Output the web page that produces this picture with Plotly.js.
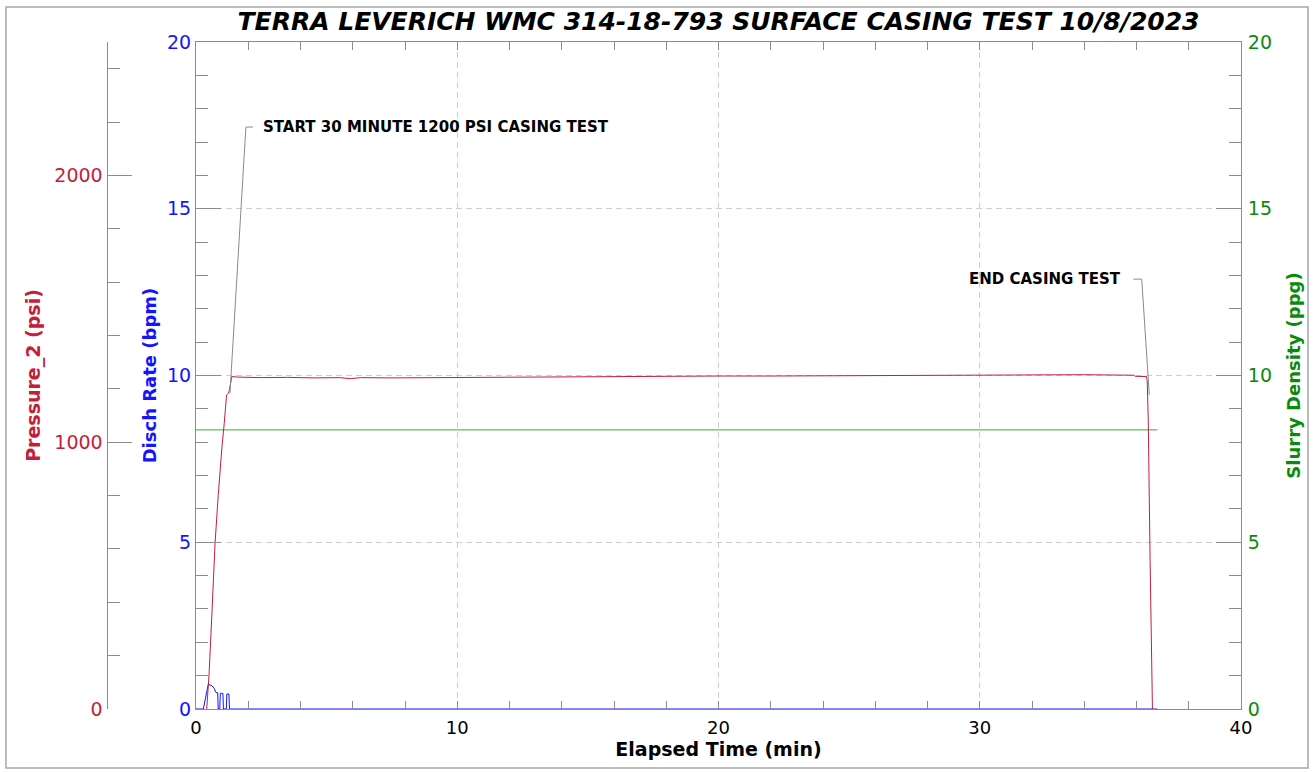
<!DOCTYPE html>
<html>
<head>
<meta charset="utf-8">
<script src="https://cdn.plot.ly/plotly-3.0.1.min.js"></script>
<style>html,body{margin:0;padding:0;background:#fff;}#chart{width:1314px;height:772px;}</style>
</head>
<body>
<div id="chart"></div>
<script>
// ---- data ----
const chartTitle = "TERRA LEVERICH WMC 314-18-793 SURFACE CASING TEST 10/8/2023";

// Pressure_2 (psi) vs elapsed time (min)
const pressureTime = [0.41, 0.5, 0.61, 0.73, 0.85, 0.92, 1.0, 1.08, 1.17, 1.24, 1.28, 1.37, 1.6, 2.5, 3.5, 4.5, 5.5, 5.9, 6.3, 7.5, 9, 10, 11, 12.5, 14, 15, 16.5, 18, 20, 22, 24, 26, 28, 30, 31, 32, 33, 34, 35, 35.9, 35.95, 36.38, 36.41, 36.45, 36.52, 36.58, 36.61];
const pressureVal  = [0, 130, 360, 622, 800, 907, 990, 1070, 1177, 1183, 1196, 1246, 1244, 1242, 1243, 1241, 1242, 1238, 1242, 1241, 1242, 1242, 1244, 1243, 1245, 1245, 1246, 1247, 1248, 1248, 1249, 1250, 1250, 1251, 1252, 1252, 1254, 1253, 1252, 1251, 1247, 1246, 1230, 1083, 558, 150, 0];

// Disch Rate (bpm)
const rateTime = [0, 0.28, 0.47, 0.61, 0.69, 0.77, 0.83, 0.85, 0.91, 0.93, 1.03, 1.05, 1.16, 1.18, 1.26, 1.28, 36.8];
const rateVal  = [0, 0, 0.74, 0.70, 0.62, 0.49, 0.49, 0, 0, 0.47, 0.47, 0, 0, 0.45, 0.45, 0, 0];

// Slurry Density (ppg)
const densityTime = [0, 36.8];
const densityVal  = [8.37, 8.37];

// Callout labels
const startLabel = "START 30 MINUTE 1200 PSI CASING TEST";
const endLabel = "END CASING TEST";

// ---- styling ----
const RED = "#c41e3a", BLUE = "#1414ff", GREEN = "#0a8a0a", GREENLINE = "#33b033";
const AX = "#8c8c8c";
const FONT = "DejaVu Sans, Arial, sans-serif";

const traces = [
  {x: densityTime, y: densityVal, yaxis: "y2", mode: "lines", name: "Slurry Density", line: {color: GREENLINE, width: 1}},
  {x: rateTime, y: rateVal, yaxis: "y", mode: "lines", name: "Disch Rate", line: {color: BLUE, width: 1}},
  {x: pressureTime, y: pressureVal, yaxis: "y3", mode: "lines", name: "Pressure_2", line: {color: RED, width: 1}}
];

const xDomStart = (196 - 20) / 1221;
const pAxisPos = (106.5 - 20) / 1221;

const layout = {
  width: 1314, height: 772,
  margin: {l: 20, r: 73, t: 42, b: 63},
  paper_bgcolor: "#fff", plot_bgcolor: "#fff",
  showlegend: false,
  font: {family: FONT, color: "#000"},
  title: {
    text: chartTitle,
    font: {family: FONT, size: 25, weight: "bold", style: "italic", color: "#000"},
    xref: "paper", x: (718.5 - 20) / 1221, xanchor: "center",
    yref: "container", y: 1 - 21 / 772, yanchor: "middle"
  },
  xaxis: {
    domain: [xDomStart, 1], range: [0, 40], dtick: 10, tick0: 0,
    ticks: "inside", ticklen: 8, tickcolor: AX, tickwidth: 1,
    minor: {dtick: 2, ticks: "inside", ticklen: 5, tickcolor: AX, showgrid: false},
    showline: true, linecolor: AX, linewidth: 1, mirror: "allticks",
    showgrid: true, gridcolor: "#cfcfcf", griddash: "6px,4px", gridwidth: 1,
    zeroline: false,
    ticklabelstandoff: 2,
    tickfont: {family: FONT, size: 18, color: "#000"},
    title: {text: "Elapsed Time (min)", font: {family: FONT, size: 19, weight: "bold", color: "#000"}, standoff: 6}
  },
  yaxis: {
    range: [0, 20], dtick: 5, tick0: 0,
    ticks: "inside", ticklen: 25, tickcolor: AX,
    minor: {dtick: 1, ticks: "inside", ticklen: 12, tickcolor: AX, showgrid: false},
    showline: true, linecolor: AX, linewidth: 1, mirror: false,
    showgrid: true, gridcolor: "#cfcfcf", griddash: "6px,4px",
    zeroline: false,
    tickfont: {family: FONT, size: 19, color: BLUE},
    title: {text: "Disch Rate (bpm)", font: {family: FONT, size: 18, weight: "bold", color: BLUE}, standoff: 5}
  },
  yaxis2: {
    overlaying: "y", side: "right", anchor: "x",
    range: [0, 20], dtick: 5, tick0: 0,
    ticks: "inside", ticklen: 25, tickcolor: AX,
    minor: {dtick: 1, ticks: "inside", ticklen: 12, tickcolor: AX, showgrid: false},
    showline: true, linecolor: AX, linewidth: 1,
    showgrid: false, zeroline: false,
    ticklabelstandoff: 2,
    tickfont: {family: FONT, size: 19, color: GREEN},
    title: {text: "Slurry Density (ppg)", font: {family: FONT, size: 18, weight: "bold", color: GREEN}, standoff: 16}
  },
  yaxis3: {
    overlaying: "y", side: "left", anchor: "free", position: pAxisPos,
    range: [0, 2500], dtick: 1000, tick0: 0,
    ticks: "inside", ticklen: 24, tickcolor: AX,
    minor: {dtick: 200, ticks: "inside", ticklen: 12, tickcolor: AX, showgrid: false},
    showline: true, linecolor: AX, linewidth: 1,
    showgrid: false, zeroline: false,
    tickfont: {family: FONT, size: 19, color: RED},
    title: {text: "Pressure_2 (psi)", font: {family: FONT, size: 19, weight: "bold", color: RED}, standoff: 7}
  },
  shapes: [
    {type: "rect", xref: "paper", yref: "paper", x0: (6 - 20) / 1221, x1: (1308 - 20) / 1221, y0: (709 - 768) / 667, y1: (709 - 7) / 667,
     line: {color: "#a6a6a6", width: 1.5}, fillcolor: "rgba(0,0,0,0)", layer: "below"},
    {type: "path", xref: "x", yref: "y", path: "M 1.30,9.47 L 1.91,17.45 L 2.18,17.45", line: {color: "#8a8a8a", width: 1}},
    {type: "path", xref: "x", yref: "y", path: "M 35.88,12.89 L 36.2,12.89 L 36.49,9.42", line: {color: "#8a8a8a", width: 1}}
  ],
  annotations: [
    {x: 2.5, y: 17.45, xref: "x", yref: "y", text: startLabel, showarrow: false, xanchor: "left", yanchor: "middle",
     font: {family: FONT, size: 15, weight: "bold", color: "#000"}},
    {x: 35.5, y: 12.89, xref: "x", yref: "y", text: endLabel, showarrow: false, xanchor: "right", yanchor: "middle",
     font: {family: FONT, size: 15, weight: "bold", color: "#000"}}
  ]
};

Plotly.newPlot("chart", traces, layout, {displayModeBar: false, staticPlot: true});
</script>
</body>
</html>
